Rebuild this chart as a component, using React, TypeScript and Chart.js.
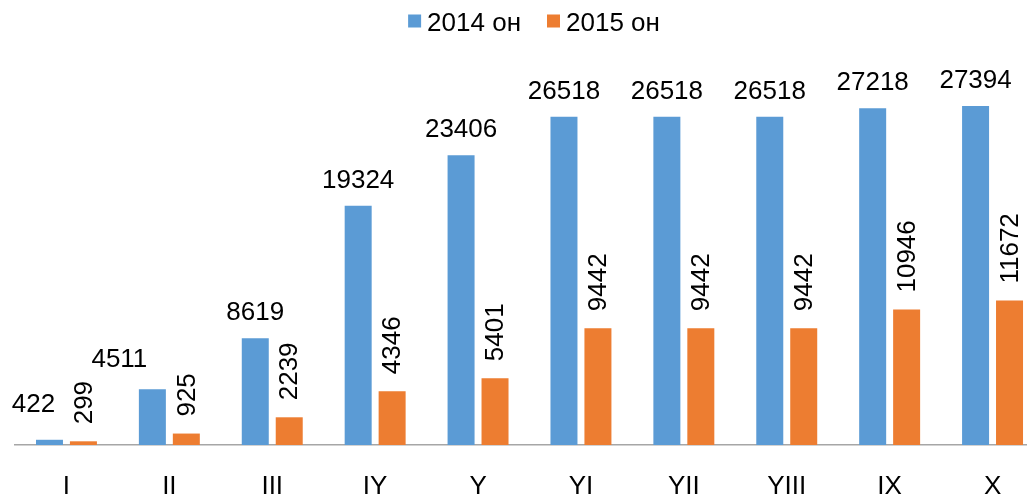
import React, { useEffect, useRef } from "react";
import { Chart, registerables } from "chart.js";

Chart.register(...registerables);

const categories = ["I", "II", "III", "IY", "Y", "YI", "YII", "YIII", "IX", "X"];
const series2014 = [422, 4511, 8619, 19324, 23406, 26518, 26518, 26518, 27218, 27394];
const series2015 = [299, 925, 2239, 4346, 5401, 9442, 9442, 9442, 10946, 11672];
const seriesNames = ["2014 он", "2015 он"];
const seriesColors = ["#5B9BD5", "#ED7D31"];

const FONT = "Liberation Sans, Arial, sans-serif";

// manual nudges of two 2014 labels that were moved aside in the original (dx, dy)
const labelNudges2014: Record<number, [number, number]> = { 0: [-16, -10], 1: [-33, -4] };

const labelPlugin = {
  id: "barLabels",
  afterDatasetsDraw(chart: any) {
    const ctx = chart.ctx;
    ctx.save();
    ctx.fillStyle = "#000";
    ctx.font = `26px ${FONT}`;
    chart.data.datasets.forEach((ds: any, di: number) => {
      const meta = chart.getDatasetMeta(di);
      meta.data.forEach((bar: any, i: number) => {
        const txt = String(ds.data[i]);
        if (di === 0) {
          const [dx, dy] = labelNudges2014[i] || [0, 0];
          ctx.textAlign = "center";
          ctx.textBaseline = "alphabetic";
          ctx.fillText(txt, bar.x + dx, bar.y - 18 + dy);
        } else {
          ctx.save();
          ctx.translate(bar.x + 1, bar.y - 17);
          ctx.rotate(-Math.PI / 2);
          ctx.textAlign = "left";
          ctx.textBaseline = "middle";
          ctx.fillText(txt, 0, 0);
          ctx.restore();
        }
      });
    });
    ctx.restore();
  },
};

const legendPlugin = {
  id: "customLegend",
  afterDraw(chart: any) {
    const ctx = chart.ctx;
    ctx.save();
    ctx.font = `26px ${FONT}`;
    const box = 13;
    const gap = 6;
    const itemGap = 26;
    const widths = seriesNames.map((n) => ctx.measureText(n).width);
    const total = widths.reduce((a, w) => a + box + gap + w, 0) + itemGap * (seriesNames.length - 1);
    let x = 526 - total / 2;
    seriesNames.forEach((name, i) => {
      ctx.fillStyle = seriesColors[i];
      ctx.fillRect(x, 6.5, box, box);
      x += box + gap;
      ctx.fillStyle = "#000";
      ctx.textAlign = "left";
      ctx.textBaseline = "alphabetic";
      ctx.fillText(name, x, 23);
      x += widths[i] + itemGap;
    });
    ctx.restore();
  },
};

export default function App() {
  const ref = useRef<HTMLCanvasElement>(null);
  useEffect(() => {
    if (!ref.current) return;
    const chart = new Chart(ref.current, {
      type: "bar",
      data: {
        labels: categories,
        datasets: [
          { label: seriesNames[0], data: series2014, backgroundColor: seriesColors[0] },
          { label: seriesNames[1], data: series2015, backgroundColor: seriesColors[1] },
        ],
      },
      options: {
        responsive: false,
        animation: false,
        layout: { padding: { left: 7, right: 9, top: 41, bottom: 0 } },
        datasets: {
          bar: { categoryPercentage: 0.66, barPercentage: 0.795 },
        },
        plugins: {
          legend: { display: false },
          tooltip: { enabled: false },
        },
        scales: {
          x: {
            grid: { display: false, drawTicks: false },
            border: { display: true, color: "#a6a6a6", width: 1.5 },
            ticks: { color: "#000", font: { size: 26, family: FONT }, padding: 26 },
            afterFit(scale: any) {
              scale.height = 54;
            },
          },
          y: { display: false, min: 0, max: 32000 },
        },
      },
      plugins: [labelPlugin, legendPlugin],
    });
    return () => chart.destroy();
  }, []);
  return (
    <div style={{ width: 1027, height: 491, overflow: "hidden" }}>
      <canvas ref={ref} width={1045} height={491} style={{ display: "block" }} />
    </div>
  );
}
